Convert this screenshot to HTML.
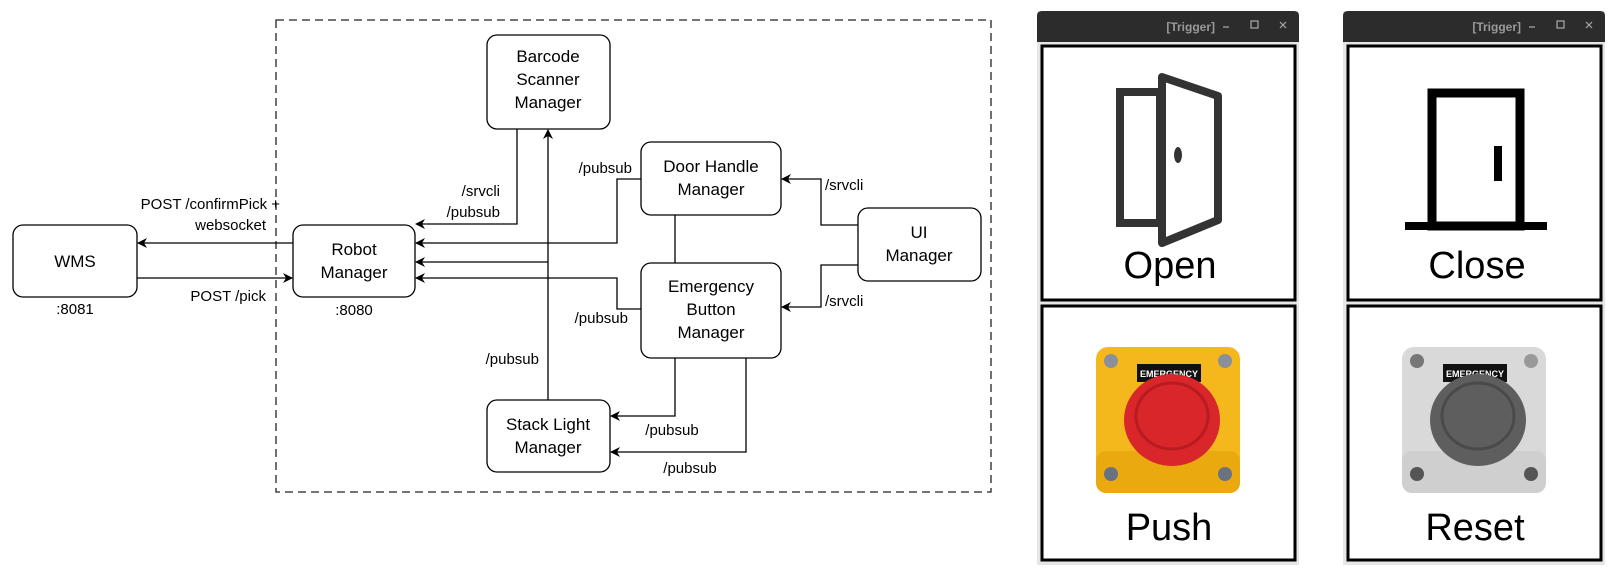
<!DOCTYPE html>
<html><head><meta charset="utf-8"><style>
html,body{margin:0;padding:0;background:#fff;}
svg{display:block;font-family:"Liberation Sans",sans-serif;}
</style></head><body>
<svg width="1616" height="571" viewBox="0 0 1616 571" xmlns="http://www.w3.org/2000/svg">
<defs>
<marker id="a" markerWidth="10" markerHeight="10" refX="9" refY="5" orient="auto" markerUnits="userSpaceOnUse">
<path d="M0,0 L10,5 L0,10 L3,5 z" fill="#000"/></marker>
</defs>
<rect x="276" y="20" width="715" height="472" fill="none" stroke="#222" stroke-width="1.3" stroke-dasharray="8,5"/>
<g fill="none" stroke="#000" stroke-width="1.3">
<line x1="293" y1="243" x2="138" y2="243" marker-end="url(#a)"/>
<line x1="137" y1="278" x2="292" y2="278" marker-end="url(#a)"/>
<polyline points="517,129 517,224 416,224" marker-end="url(#a)"/>
<line x1="548" y1="400" x2="548" y2="130" marker-end="url(#a)"/>
<polyline points="548,262 416,262" marker-end="url(#a)"/>
<polyline points="641,179 617,179 617,243 416,243" marker-end="url(#a)"/>
<polyline points="641,309 617,309 617,278 416,278" marker-end="url(#a)"/>
<line x1="675" y1="215" x2="675" y2="263"/>
<polyline points="858,225 821,225 821,179 782,179" marker-end="url(#a)"/>
<polyline points="858,265 821,265 821,307 782,307" marker-end="url(#a)"/>
<polyline points="675,358 675,416 611,416" marker-end="url(#a)"/>
<polyline points="746,358 746,452 611,452" marker-end="url(#a)"/>
</g>
<g fill="#fff" stroke="#000" stroke-width="1.3">
<rect x="13" y="225" width="124" height="72" rx="10"/>
<rect x="293" y="225" width="122" height="72" rx="10"/>
<rect x="487" y="35" width="123" height="94" rx="10"/>
<rect x="641" y="142" width="140" height="73" rx="10"/>
<rect x="858" y="208" width="123" height="73" rx="10"/>
<rect x="641" y="263" width="140" height="95" rx="10"/>
<rect x="487" y="400" width="123" height="72" rx="10"/>
</g>
<g font-size="17" text-anchor="middle" fill="#000">
<text x="75" y="267">WMS</text>
<text x="354" y="255">Robot</text><text x="354" y="278">Manager</text>
<text x="548" y="62">Barcode</text><text x="548" y="85">Scanner</text><text x="548" y="108">Manager</text>
<text x="711" y="172">Door Handle</text><text x="711" y="195">Manager</text>
<text x="919" y="238">UI</text><text x="919" y="261">Manager</text>
<text x="711" y="292">Emergency</text><text x="711" y="315">Button</text><text x="711" y="338">Manager</text>
<text x="548" y="430">Stack Light</text><text x="548" y="453">Manager</text>
</g>
<g font-size="15" fill="#000">
<text x="280" y="209" text-anchor="end">POST /confirmPick +</text>
<text x="266" y="230" text-anchor="end">websocket</text>
<text x="266" y="301" text-anchor="end">POST /pick</text>
<text x="75" y="314" text-anchor="middle">:8081</text>
<text x="354" y="315" text-anchor="middle">:8080</text>
<text x="500" y="196" text-anchor="end">/srvcli</text>
<text x="500" y="217" text-anchor="end">/pubsub</text>
<text x="632" y="173" text-anchor="end">/pubsub</text>
<text x="628" y="323" text-anchor="end">/pubsub</text>
<text x="539" y="364" text-anchor="end">/pubsub</text>
<text x="825" y="190">/srvcli</text>
<text x="825" y="306">/srvcli</text>
<text x="672" y="435" text-anchor="middle">/pubsub</text>
<text x="690" y="473" text-anchor="middle">/pubsub</text>
</g>

<g>
<rect x="1037" y="11" width="262" height="554" fill="#e6e6e6"/>
<path d="M1037,42 V16 Q1037,11 1042,11 H1294 Q1299,11 1299,16 V42 Z" fill="#2c2c2c"/>
<text x="1215" y="31" font-size="12" font-weight="bold" fill="#9a9a9a" text-anchor="end">[Trigger]</text>
<line x1="1223" y1="27" x2="1229" y2="27" stroke="#aaa" stroke-width="1.2"/>
<rect x="1251" y="21" width="7" height="7" fill="none" stroke="#aaa" stroke-width="1.2"/>
<path d="M1280,22 l6,6 M1286,22 l-6,6" stroke="#aaa" stroke-width="1.2"/>
<rect x="1042" y="46" width="253" height="254" fill="#fff" stroke="#000" stroke-width="3"/>
<rect x="1042" y="306" width="253" height="254" fill="#fff" stroke="#000" stroke-width="3"/>
<rect x="1120" y="92" width="40" height="131" fill="none" stroke="#333" stroke-width="8"/>
<polygon points="1162,77 1218,96 1218,220 1162,243" fill="#fff" stroke="#333" stroke-width="8" stroke-linejoin="round"/>
<ellipse cx="1178" cy="155" rx="4" ry="8" fill="#333"/>
<text x="1170" y="278" font-size="38" text-anchor="middle">Open</text>
<rect x="1096" y="347" width="144" height="146" rx="12" fill="#f5b81c"/>
<rect x="1096" y="451" width="144" height="42" rx="10" fill="#eaa90f"/>
<rect x="1137" y="364" width="64" height="18" fill="#111"/>
<text x="1169" y="377" font-size="9" font-weight="bold" fill="#fff" text-anchor="middle">EMERGENCY</text>
<ellipse cx="1172" cy="420" rx="48" ry="46" fill="#d8262a"/>
<ellipse cx="1172" cy="416" rx="36" ry="33" fill="none" stroke="#b91c20" stroke-width="3"/>
<circle cx="1111" cy="361" r="7" fill="#8a8f99"/><circle cx="1225" cy="361" r="7" fill="#8a8f99"/>
<circle cx="1111" cy="474" r="7" fill="#6a7180"/><circle cx="1225" cy="474" r="7" fill="#6a7180"/>
<text x="1169" y="540" font-size="38" text-anchor="middle">Push</text>
</g>
<g>
<rect x="1343" y="11" width="262" height="554" fill="#e6e6e6"/>
<path d="M1343,42 V16 Q1343,11 1348,11 H1600 Q1605,11 1605,16 V42 Z" fill="#2c2c2c"/>
<text x="1521" y="31" font-size="12" font-weight="bold" fill="#9a9a9a" text-anchor="end">[Trigger]</text>
<line x1="1529" y1="27" x2="1535" y2="27" stroke="#aaa" stroke-width="1.2"/>
<rect x="1557" y="21" width="7" height="7" fill="none" stroke="#aaa" stroke-width="1.2"/>
<path d="M1586,22 l6,6 M1592,22 l-6,6" stroke="#aaa" stroke-width="1.2"/>
<rect x="1348" y="46" width="253" height="254" fill="#fff" stroke="#000" stroke-width="3"/>
<rect x="1348" y="306" width="253" height="254" fill="#fff" stroke="#000" stroke-width="3"/>
<rect x="1432" y="93" width="88" height="133" fill="none" stroke="#000" stroke-width="9"/>
<rect x="1405" y="222" width="142" height="8" fill="#000"/>
<rect x="1494" y="146" width="8" height="35" fill="#000"/>
<text x="1477" y="278" font-size="38" text-anchor="middle">Close</text>
<rect x="1402" y="347" width="144" height="146" rx="12" fill="#d9d9d9"/>
<rect x="1402" y="451" width="144" height="42" rx="10" fill="#cfcfcf"/>
<rect x="1443" y="364" width="64" height="18" fill="#111"/>
<text x="1475" y="377" font-size="9" font-weight="bold" fill="#fff" text-anchor="middle">EMERGENCY</text>
<ellipse cx="1478" cy="420" rx="48" ry="46" fill="#5e5e5e"/>
<ellipse cx="1478" cy="416" rx="36" ry="33" fill="none" stroke="#4a4a4a" stroke-width="3"/>
<circle cx="1417" cy="361" r="7" fill="#777"/><circle cx="1531" cy="361" r="7" fill="#999"/>
<circle cx="1417" cy="474" r="7" fill="#555"/><circle cx="1531" cy="474" r="7" fill="#555"/>
<text x="1475" y="540" font-size="38" text-anchor="middle">Reset</text>
</g>
</svg>
</body></html>
